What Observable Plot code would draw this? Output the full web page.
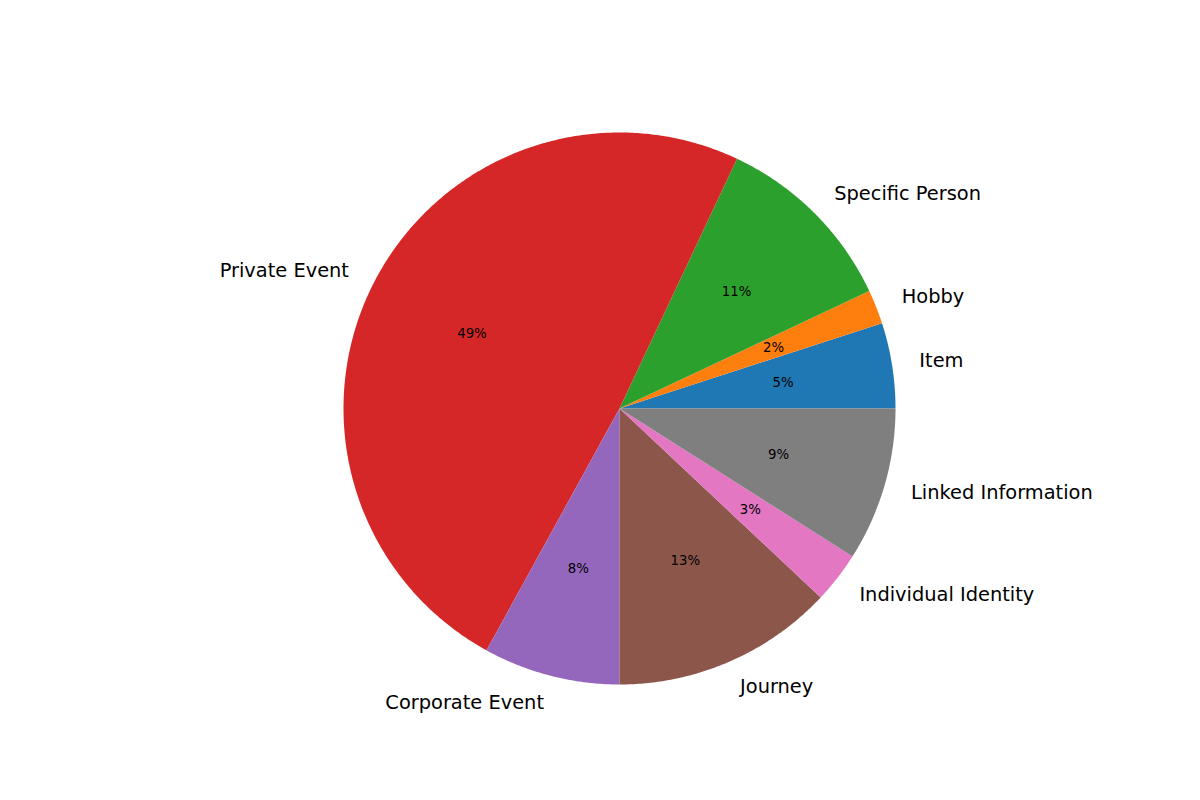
<!DOCTYPE html>
<html>
<head>
<meta charset="utf-8">
<script src="https://cdn.jsdelivr.net/npm/d3@7"></script>
<script src="https://cdn.jsdelivr.net/npm/@observablehq/plot@0.6"></script>
<style>
  html, body { margin: 0; padding: 0; background: #fff; }
  #chart { width: 1200px; height: 800px; }
</style>
</head>
<body>
<div id="chart"></div>
<script>
// Data (counterclockwise from 3 o'clock, as in the reference)
const categories = ["Item", "Hobby", "Specific Person", "Private Event", "Corporate Event", "Journey", "Individual Identity", "Linked Information"];
const values = [5, 2, 11, 49, 8, 13, 3, 9];
const colors = ["#1f77b4", "#ff7f0e", "#2ca02c", "#d62728", "#9467bd", "#8c564b", "#e377c2", "#7f7f7f"];

const total = d3.sum(values);
const slices = [];
let acc = 0;
categories.forEach((c, i) => {
  const a0 = acc / total * 2 * Math.PI;
  acc += values[i];
  const a1 = acc / total * 2 * Math.PI;
  slices.push({category: c, value: values[i], a0, a1, mid: (a0 + a1) / 2});
});

// polygon points for each wedge (unit radius)
const wedgePts = [];
for (const s of slices) {
  const n = Math.max(4, Math.ceil((s.a1 - s.a0) / (Math.PI / 360)));
  wedgePts.push({category: s.category, x: 0, y: 0});
  for (let k = 0; k <= n; k++) {
    const a = s.a0 + (s.a1 - s.a0) * k / n;
    wedgePts.push({category: s.category, x: Math.cos(a), y: Math.sin(a)});
  }
  wedgePts.push({category: s.category, x: 0, y: 0});
}

const labels = slices.map(s => ({
  category: s.category,
  x: 1.1 * Math.cos(s.mid),
  y: 1.1 * Math.sin(s.mid),
  right: Math.cos(s.mid) >= 0
}));
const pcts = slices.map(s => ({
  text: `${Math.round(s.value / total * 100)}%`,
  x: 0.6 * Math.cos(s.mid),
  y: 0.6 * Math.sin(s.mid)
}));

const R = 276, cx = 619, cy = 408, W = 1200, H = 800;

const plot = Plot.plot({
  width: W,
  height: H,
  margin: 0,
  x: {domain: [-cx / R, (W - cx) / R], range: [0, W], axis: null},
  y: {domain: [-(H - cy) / R, cy / R], range: [H, 0], axis: null},
  color: {domain: categories, range: colors},
  style: {fontFamily: "DejaVu Sans, sans-serif", background: "#fff"},
  marks: [
    Plot.line(wedgePts, {x: "x", y: "y", z: "category", fill: "category", stroke: null, curve: "linear"}),
    Plot.text(labels.filter(d => d.right), {x: "x", y: "y", text: "category", textAnchor: "start", fontSize: 19.4, fill: "#000"}),
    Plot.text(labels.filter(d => !d.right), {x: "x", y: "y", text: "category", textAnchor: "end", fontSize: 19.4, fill: "#000"}),
    Plot.text(pcts, {x: "x", y: "y", text: "text", textAnchor: "middle", fontSize: 13.3, fill: "#000"})
  ]
});
document.getElementById("chart").appendChild(plot);
</script>
</body>
</html>
